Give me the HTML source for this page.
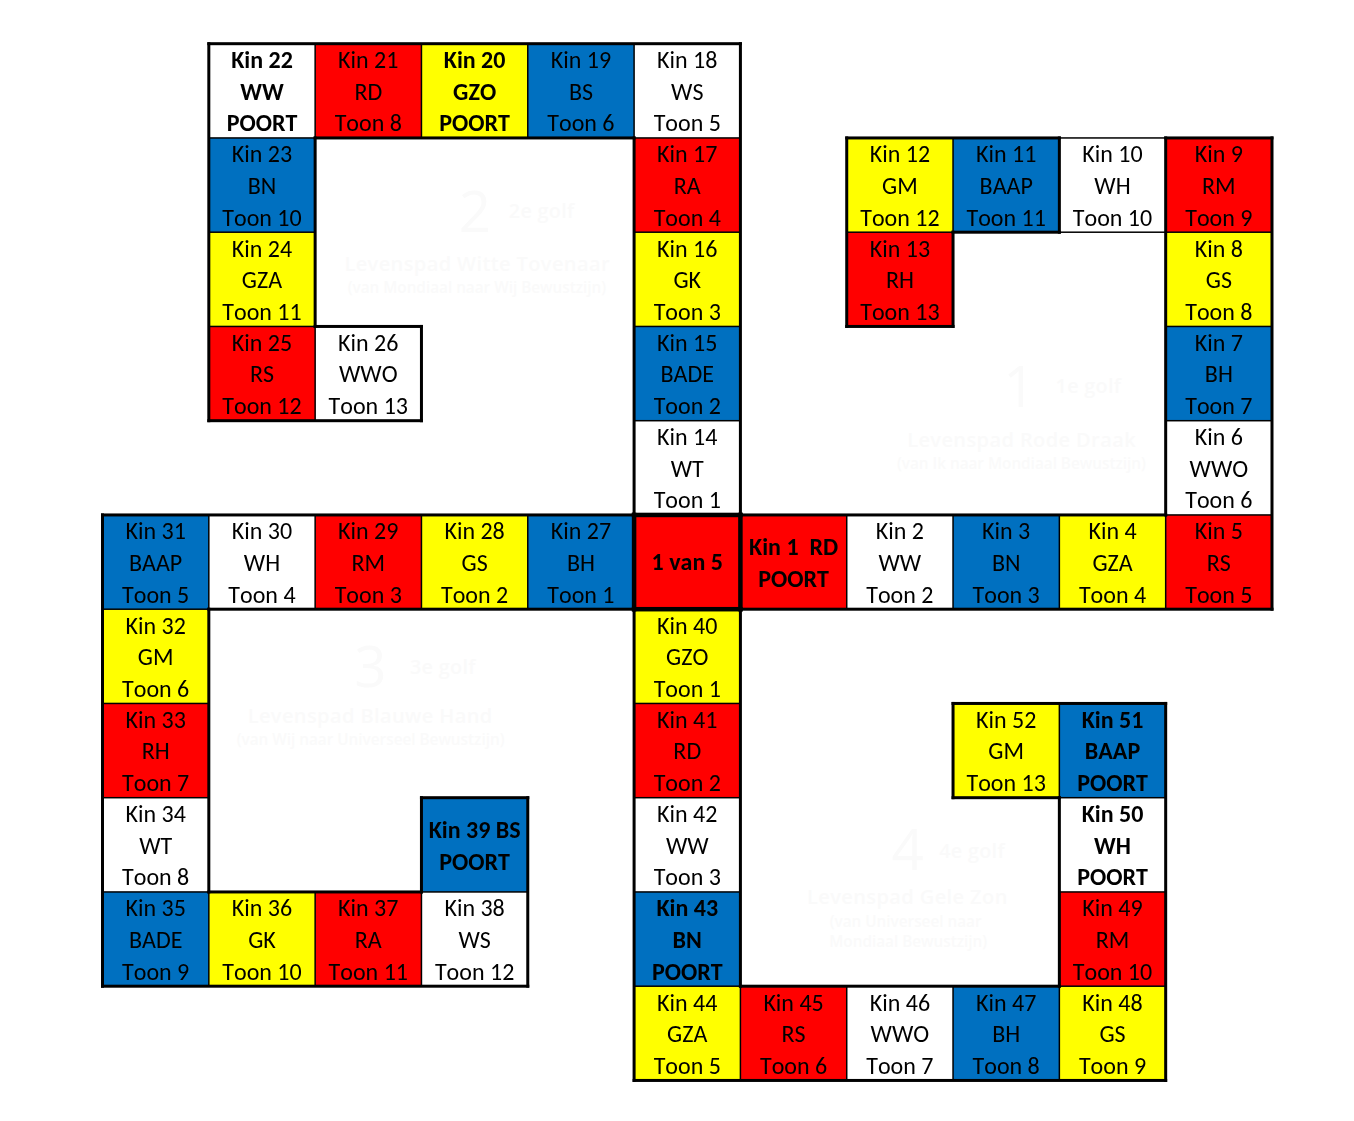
<!DOCTYPE html>
<html><head><meta charset="utf-8"><title>Levenspad</title>
<style>
html,body{margin:0;padding:0;background:#fff;}
body{width:1354px;height:1121px;overflow:hidden;}
svg{display:block;}
.c{filter:opacity(1);}
.c{font-family:Carlito,"Liberation Sans",Arial,sans-serif;font-size:24px;fill:#000;font-kerning:none;font-feature-settings:"kern" 0;}
.w{font-family:"Open Sans","Liberation Sans",Arial,sans-serif;fill:#fafafa;}
</style></head>
<body>
<svg width="1354" height="1121" viewBox="0 0 1354 1121">
<rect x="0" y="0" width="1354" height="1121" fill="#fff"/>
<g class="w">
<text x="475" y="232" font-size="56.5" font-weight="500" text-anchor="middle">2</text>
<text x="508.8" y="217.6" font-size="19.8" font-weight="600" text-anchor="start" letter-spacing="0.3">2e golf</text>
<text x="477.2" y="270.9" font-size="20" font-weight="600" text-anchor="middle" letter-spacing="0.4">Levenspad Witte Tovenaar</text>
<text x="476.9" y="292.8" font-size="15.3" font-weight="600" text-anchor="middle">(van Mondiaal naar Wij Bewustzijn)</text>
<text x="1019.5" y="406.6" font-size="56.5" font-weight="500" text-anchor="middle">1</text>
<text x="1055.6" y="392.6" font-size="19.8" font-weight="600" text-anchor="start" letter-spacing="0.3">1e golf</text>
<text x="1021.6" y="446.7" font-size="20" font-weight="600" text-anchor="middle" letter-spacing="0.4">Levenspad Rode Draak</text>
<text x="1021.4" y="468.9" font-size="15.3" font-weight="600" text-anchor="middle">(van Ik naar Mondiaal Bewustzijn)</text>
<text x="370.5" y="687.3" font-size="56.5" font-weight="500" text-anchor="middle">3</text>
<text x="410" y="673.6" font-size="19.8" font-weight="600" text-anchor="start" letter-spacing="0.3">3e golf</text>
<text x="370.2" y="722.6" font-size="20" font-weight="600" text-anchor="middle" letter-spacing="0.4">Levenspad Blauwe Hand</text>
<text x="370.6" y="744.8" font-size="15.3" font-weight="600" text-anchor="middle">(van Wij naar Universeel Bewustzijn)</text>
<text x="907.7" y="870.3" font-size="56.5" font-weight="500" text-anchor="middle">4</text>
<text x="939.2" y="858.1" font-size="19.8" font-weight="600" text-anchor="start" letter-spacing="0.3">4e golf</text>
<text x="907.4" y="904.4" font-size="20" font-weight="600" text-anchor="middle" letter-spacing="0.4">Levenspad Gele Zon</text>
<text x="905.6" y="926.5" font-size="15.3" font-weight="600" text-anchor="middle">(van Universeel naar</text>
<text x="908.2" y="946.5" font-size="15.3" font-weight="600" text-anchor="middle">Mondiaal Bewustzijn)</text>
</g>
<g>
<rect x="315.14" y="43.7" width="106.32" height="94.25" fill="#ff0000"/>
<rect x="421.45" y="43.7" width="106.32" height="94.25" fill="#ffff00"/>
<rect x="527.77" y="43.7" width="106.32" height="94.25" fill="#0070c0"/>
<rect x="208.82" y="137.95" width="106.32" height="94.25" fill="#0070c0"/>
<rect x="634.09" y="137.95" width="106.32" height="94.25" fill="#ff0000"/>
<rect x="846.73" y="137.95" width="106.32" height="94.25" fill="#ffff00"/>
<rect x="953.04" y="137.95" width="106.32" height="94.25" fill="#0070c0"/>
<rect x="1165.68" y="137.95" width="106.32" height="94.25" fill="#ff0000"/>
<rect x="208.82" y="232.2" width="106.32" height="94.25" fill="#ffff00"/>
<rect x="634.09" y="232.2" width="106.32" height="94.25" fill="#ffff00"/>
<rect x="846.73" y="232.2" width="106.32" height="94.25" fill="#ff0000"/>
<rect x="1165.68" y="232.2" width="106.32" height="94.25" fill="#ffff00"/>
<rect x="208.82" y="326.45" width="106.32" height="94.25" fill="#ff0000"/>
<rect x="634.09" y="326.45" width="106.32" height="94.25" fill="#0070c0"/>
<rect x="1165.68" y="326.45" width="106.32" height="94.25" fill="#0070c0"/>
<rect x="102.5" y="514.95" width="106.32" height="94.25" fill="#0070c0"/>
<rect x="315.14" y="514.95" width="106.32" height="94.25" fill="#ff0000"/>
<rect x="421.45" y="514.95" width="106.32" height="94.25" fill="#ffff00"/>
<rect x="527.77" y="514.95" width="106.32" height="94.25" fill="#0070c0"/>
<rect x="634.09" y="514.95" width="106.32" height="94.25" fill="#ff0000"/>
<rect x="740.41" y="514.95" width="106.32" height="94.25" fill="#ff0000"/>
<rect x="953.04" y="514.95" width="106.32" height="94.25" fill="#0070c0"/>
<rect x="1059.36" y="514.95" width="106.32" height="94.25" fill="#ffff00"/>
<rect x="1165.68" y="514.95" width="106.32" height="94.25" fill="#ff0000"/>
<rect x="102.5" y="609.2" width="106.32" height="94.25" fill="#ffff00"/>
<rect x="634.09" y="609.2" width="106.32" height="94.25" fill="#ffff00"/>
<rect x="102.5" y="703.45" width="106.32" height="94.25" fill="#ff0000"/>
<rect x="634.09" y="703.45" width="106.32" height="94.25" fill="#ff0000"/>
<rect x="953.04" y="703.45" width="106.32" height="94.25" fill="#ffff00"/>
<rect x="1059.36" y="703.45" width="106.32" height="94.25" fill="#0070c0"/>
<rect x="421.45" y="797.7" width="106.32" height="94.25" fill="#0070c0"/>
<rect x="102.5" y="891.95" width="106.32" height="94.25" fill="#0070c0"/>
<rect x="208.82" y="891.95" width="106.32" height="94.25" fill="#ffff00"/>
<rect x="315.14" y="891.95" width="106.32" height="94.25" fill="#ff0000"/>
<rect x="634.09" y="891.95" width="106.32" height="94.25" fill="#0070c0"/>
<rect x="1059.36" y="891.95" width="106.32" height="94.25" fill="#ff0000"/>
<rect x="634.09" y="986.2" width="106.32" height="94.25" fill="#ffff00"/>
<rect x="740.41" y="986.2" width="106.32" height="94.25" fill="#ff0000"/>
<rect x="953.04" y="986.2" width="106.32" height="94.25" fill="#0070c0"/>
<rect x="1059.36" y="986.2" width="106.32" height="94.25" fill="#ffff00"/>
</g>
<g fill="#000">
<rect x="208.82" y="137.2" width="106.32" height="1.5"/>
<rect x="634.09" y="137.2" width="106.32" height="1.5"/>
<rect x="1059.36" y="137.2" width="106.32" height="1.5"/>
<rect x="208.82" y="231.45" width="106.32" height="1.5"/>
<rect x="634.09" y="231.45" width="106.32" height="1.5"/>
<rect x="846.73" y="231.45" width="106.32" height="1.5"/>
<rect x="1059.36" y="231.45" width="212.64" height="1.5"/>
<rect x="208.82" y="325.7" width="106.32" height="1.5"/>
<rect x="634.09" y="325.7" width="106.32" height="1.5"/>
<rect x="1165.68" y="325.7" width="106.32" height="1.5"/>
<rect x="634.09" y="419.95" width="106.32" height="1.5"/>
<rect x="1165.68" y="419.95" width="106.32" height="1.5"/>
<rect x="1165.68" y="514.2" width="106.32" height="1.5"/>
<rect x="102.5" y="608.45" width="106.32" height="1.5"/>
<rect x="102.5" y="702.7" width="106.32" height="1.5"/>
<rect x="634.09" y="702.7" width="106.32" height="1.5"/>
<rect x="102.5" y="796.95" width="106.32" height="1.5"/>
<rect x="634.09" y="796.95" width="106.32" height="1.5"/>
<rect x="1059.36" y="796.95" width="106.32" height="1.5"/>
<rect x="102.5" y="891.2" width="106.32" height="1.5"/>
<rect x="421.45" y="891.2" width="106.32" height="1.5"/>
<rect x="634.09" y="891.2" width="106.32" height="1.5"/>
<rect x="1059.36" y="891.2" width="106.32" height="1.5"/>
<rect x="634.09" y="985.45" width="106.32" height="1.5"/>
<rect x="1059.36" y="985.45" width="106.32" height="1.5"/>
<rect x="208.07" y="514.95" width="1.5" height="94.25"/>
<rect x="208.07" y="891.95" width="1.5" height="94.25"/>
<rect x="314.39" y="43.7" width="1.5" height="94.25"/>
<rect x="314.39" y="326.45" width="1.5" height="94.25"/>
<rect x="314.39" y="514.95" width="1.5" height="94.25"/>
<rect x="314.39" y="891.95" width="1.5" height="94.25"/>
<rect x="420.7" y="43.7" width="1.5" height="94.25"/>
<rect x="420.7" y="514.95" width="1.5" height="94.25"/>
<rect x="420.7" y="891.95" width="1.5" height="94.25"/>
<rect x="527.02" y="43.7" width="1.5" height="94.25"/>
<rect x="527.02" y="514.95" width="1.5" height="94.25"/>
<rect x="633.34" y="43.7" width="1.5" height="94.25"/>
<rect x="739.66" y="986.2" width="1.5" height="94.25"/>
<rect x="845.98" y="514.95" width="1.5" height="94.25"/>
<rect x="845.98" y="986.2" width="1.5" height="94.25"/>
<rect x="952.29" y="137.95" width="1.5" height="94.25"/>
<rect x="952.29" y="514.95" width="1.5" height="94.25"/>
<rect x="952.29" y="986.2" width="1.5" height="94.25"/>
<rect x="1058.61" y="514.95" width="1.5" height="94.25"/>
<rect x="1058.61" y="703.45" width="1.5" height="94.25"/>
<rect x="1058.61" y="986.2" width="1.5" height="94.25"/>
<rect x="1164.93" y="514.95" width="1.5" height="94.25"/>
<rect x="207.32" y="42.2" width="534.59" height="3"/>
<rect x="313.64" y="136.45" width="321.95" height="3"/>
<rect x="845.23" y="136.45" width="215.64" height="3"/>
<rect x="1164.18" y="136.45" width="109.32" height="3"/>
<rect x="951.54" y="230.7" width="109.32" height="3"/>
<rect x="313.64" y="324.95" width="109.32" height="3"/>
<rect x="845.23" y="324.95" width="109.32" height="3"/>
<rect x="207.32" y="419.2" width="215.64" height="3"/>
<rect x="101" y="513.45" width="535.34" height="3"/>
<rect x="738.16" y="513.45" width="429.02" height="3"/>
<rect x="207.32" y="607.7" width="429.02" height="3"/>
<rect x="738.16" y="607.7" width="535.34" height="3"/>
<rect x="951.54" y="701.95" width="215.64" height="3"/>
<rect x="419.95" y="796.2" width="109.32" height="3"/>
<rect x="951.54" y="796.2" width="109.32" height="3"/>
<rect x="207.32" y="890.45" width="215.64" height="3"/>
<rect x="101" y="984.7" width="428.27" height="3"/>
<rect x="738.91" y="984.7" width="321.95" height="3"/>
<rect x="632.59" y="1078.95" width="534.59" height="3"/>
<rect x="101" y="513.45" width="3" height="474.25"/>
<rect x="207.32" y="42.2" width="3" height="380"/>
<rect x="207.32" y="607.7" width="3" height="285.75"/>
<rect x="313.64" y="136.45" width="3" height="191.5"/>
<rect x="419.95" y="324.95" width="3" height="97.25"/>
<rect x="419.95" y="796.2" width="3" height="97.25"/>
<rect x="526.27" y="796.2" width="3" height="191.5"/>
<rect x="632.59" y="136.45" width="3" height="380.75"/>
<rect x="632.59" y="606.95" width="3" height="475"/>
<rect x="738.91" y="42.2" width="3" height="475"/>
<rect x="738.91" y="606.95" width="3" height="380.75"/>
<rect x="845.23" y="136.45" width="3" height="191.5"/>
<rect x="951.54" y="230.7" width="3" height="97.25"/>
<rect x="951.54" y="701.95" width="3" height="97.25"/>
<rect x="1057.86" y="136.45" width="3" height="97.25"/>
<rect x="1057.86" y="796.2" width="3" height="191.5"/>
<rect x="1164.18" y="136.45" width="3" height="380"/>
<rect x="1164.18" y="701.95" width="3" height="380"/>
<rect x="1270.5" y="136.45" width="3" height="474.25"/>
<rect x="631.84" y="512.7" width="110.82" height="4.5"/>
<rect x="631.84" y="606.95" width="110.82" height="4.5"/>
<rect x="631.84" y="512.7" width="4.5" height="98.75"/>
<rect x="738.16" y="512.7" width="4.5" height="98.75"/>
</g>
<g class="c" text-anchor="middle">
<text x="261.98" y="68.1" font-weight="700">Kin 22</text>
<text x="261.98" y="99.7" font-weight="700">WW</text>
<text x="261.98" y="131.4" font-weight="700">POORT</text>
<text x="368.29" y="68.1">Kin 21</text>
<text x="368.29" y="99.7">RD</text>
<text x="368.29" y="131.4">Toon 8</text>
<text x="474.61" y="68.1" font-weight="700">Kin 20</text>
<text x="474.61" y="99.7" font-weight="700">GZO</text>
<text x="474.61" y="131.4" font-weight="700">POORT</text>
<text x="580.93" y="68.1">Kin 19</text>
<text x="580.93" y="99.7">BS</text>
<text x="580.93" y="131.4">Toon 6</text>
<text x="687.25" y="68.1">Kin 18</text>
<text x="687.25" y="99.7">WS</text>
<text x="687.25" y="131.4">Toon 5</text>
<text x="261.98" y="162.35">Kin 23</text>
<text x="261.98" y="193.95">BN</text>
<text x="261.98" y="225.65">Toon 10</text>
<text x="687.25" y="162.35">Kin 17</text>
<text x="687.25" y="193.95">RA</text>
<text x="687.25" y="225.65">Toon 4</text>
<text x="899.88" y="162.35">Kin 12</text>
<text x="899.88" y="193.95">GM</text>
<text x="899.88" y="225.65">Toon 12</text>
<text x="1006.2" y="162.35">Kin 11</text>
<text x="1006.2" y="193.95">BAAP</text>
<text x="1006.2" y="225.65">Toon 11</text>
<text x="1112.52" y="162.35">Kin 10</text>
<text x="1112.52" y="193.95">WH</text>
<text x="1112.52" y="225.65">Toon 10</text>
<text x="1218.84" y="162.35">Kin 9</text>
<text x="1218.84" y="193.95">RM</text>
<text x="1218.84" y="225.65">Toon 9</text>
<text x="261.98" y="256.6">Kin 24</text>
<text x="261.98" y="288.2">GZA</text>
<text x="261.98" y="319.9">Toon 11</text>
<text x="687.25" y="256.6">Kin 16</text>
<text x="687.25" y="288.2">GK</text>
<text x="687.25" y="319.9">Toon 3</text>
<text x="899.88" y="256.6">Kin 13</text>
<text x="899.88" y="288.2">RH</text>
<text x="899.88" y="319.9">Toon 13</text>
<text x="1218.84" y="256.6">Kin 8</text>
<text x="1218.84" y="288.2">GS</text>
<text x="1218.84" y="319.9">Toon 8</text>
<text x="261.98" y="350.85">Kin 25</text>
<text x="261.98" y="382.45">RS</text>
<text x="261.98" y="414.15">Toon 12</text>
<text x="368.29" y="350.85">Kin 26</text>
<text x="368.29" y="382.45">WWO</text>
<text x="368.29" y="414.15">Toon 13</text>
<text x="687.25" y="350.85">Kin 15</text>
<text x="687.25" y="382.45">BADE</text>
<text x="687.25" y="414.15">Toon 2</text>
<text x="1218.84" y="350.85">Kin 7</text>
<text x="1218.84" y="382.45">BH</text>
<text x="1218.84" y="414.15">Toon 7</text>
<text x="687.25" y="445.1">Kin 14</text>
<text x="687.25" y="476.7">WT</text>
<text x="687.25" y="508.4">Toon 1</text>
<text x="1218.84" y="445.1">Kin 6</text>
<text x="1218.84" y="476.7">WWO</text>
<text x="1218.84" y="508.4">Toon 6</text>
<text x="155.66" y="539.35">Kin 31</text>
<text x="155.66" y="570.95">BAAP</text>
<text x="155.66" y="602.65">Toon 5</text>
<text x="261.98" y="539.35">Kin 30</text>
<text x="261.98" y="570.95">WH</text>
<text x="261.98" y="602.65">Toon 4</text>
<text x="368.29" y="539.35">Kin 29</text>
<text x="368.29" y="570.95">RM</text>
<text x="368.29" y="602.65">Toon 3</text>
<text x="474.61" y="539.35">Kin 28</text>
<text x="474.61" y="570.95">GS</text>
<text x="474.61" y="602.65">Toon 2</text>
<text x="580.93" y="539.35">Kin 27</text>
<text x="580.93" y="570.95">BH</text>
<text x="580.93" y="602.65">Toon 1</text>
<text x="687.25" y="569.55" font-weight="700">1 van 5</text>
<text x="793.57" y="554.75" font-weight="700">Kin 1  RD</text>
<text x="793.57" y="586.75" font-weight="700">POORT</text>
<text x="899.88" y="539.35">Kin 2</text>
<text x="899.88" y="570.95">WW</text>
<text x="899.88" y="602.65">Toon 2</text>
<text x="1006.2" y="539.35">Kin 3</text>
<text x="1006.2" y="570.95">BN</text>
<text x="1006.2" y="602.65">Toon 3</text>
<text x="1112.52" y="539.35">Kin 4</text>
<text x="1112.52" y="570.95">GZA</text>
<text x="1112.52" y="602.65">Toon 4</text>
<text x="1218.84" y="539.35">Kin 5</text>
<text x="1218.84" y="570.95">RS</text>
<text x="1218.84" y="602.65">Toon 5</text>
<text x="155.66" y="633.6">Kin 32</text>
<text x="155.66" y="665.2">GM</text>
<text x="155.66" y="696.9">Toon 6</text>
<text x="687.25" y="633.6">Kin 40</text>
<text x="687.25" y="665.2">GZO</text>
<text x="687.25" y="696.9">Toon 1</text>
<text x="155.66" y="727.85">Kin 33</text>
<text x="155.66" y="759.45">RH</text>
<text x="155.66" y="791.15">Toon 7</text>
<text x="687.25" y="727.85">Kin 41</text>
<text x="687.25" y="759.45">RD</text>
<text x="687.25" y="791.15">Toon 2</text>
<text x="1006.2" y="727.85">Kin 52</text>
<text x="1006.2" y="759.45">GM</text>
<text x="1006.2" y="791.15">Toon 13</text>
<text x="1112.52" y="727.85" font-weight="700">Kin 51</text>
<text x="1112.52" y="759.45" font-weight="700">BAAP</text>
<text x="1112.52" y="791.15" font-weight="700">POORT</text>
<text x="155.66" y="822.1">Kin 34</text>
<text x="155.66" y="853.7">WT</text>
<text x="155.66" y="885.4">Toon 8</text>
<text x="474.61" y="837.5" font-weight="700">Kin 39 BS</text>
<text x="474.61" y="869.5" font-weight="700">POORT</text>
<text x="687.25" y="822.1">Kin 42</text>
<text x="687.25" y="853.7">WW</text>
<text x="687.25" y="885.4">Toon 3</text>
<text x="1112.52" y="822.1" font-weight="700">Kin 50</text>
<text x="1112.52" y="853.7" font-weight="700">WH</text>
<text x="1112.52" y="885.4" font-weight="700">POORT</text>
<text x="155.66" y="916.35">Kin 35</text>
<text x="155.66" y="947.95">BADE</text>
<text x="155.66" y="979.65">Toon 9</text>
<text x="261.98" y="916.35">Kin 36</text>
<text x="261.98" y="947.95">GK</text>
<text x="261.98" y="979.65">Toon 10</text>
<text x="368.29" y="916.35">Kin 37</text>
<text x="368.29" y="947.95">RA</text>
<text x="368.29" y="979.65">Toon 11</text>
<text x="474.61" y="916.35">Kin 38</text>
<text x="474.61" y="947.95">WS</text>
<text x="474.61" y="979.65">Toon 12</text>
<text x="687.25" y="916.35" font-weight="700">Kin 43</text>
<text x="687.25" y="947.95" font-weight="700">BN</text>
<text x="687.25" y="979.65" font-weight="700">POORT</text>
<text x="1112.52" y="916.35">Kin 49</text>
<text x="1112.52" y="947.95">RM</text>
<text x="1112.52" y="979.65">Toon 10</text>
<text x="687.25" y="1010.6">Kin 44</text>
<text x="687.25" y="1042.2">GZA</text>
<text x="687.25" y="1073.9">Toon 5</text>
<text x="793.57" y="1010.6">Kin 45</text>
<text x="793.57" y="1042.2">RS</text>
<text x="793.57" y="1073.9">Toon 6</text>
<text x="899.88" y="1010.6">Kin 46</text>
<text x="899.88" y="1042.2">WWO</text>
<text x="899.88" y="1073.9">Toon 7</text>
<text x="1006.2" y="1010.6">Kin 47</text>
<text x="1006.2" y="1042.2">BH</text>
<text x="1006.2" y="1073.9">Toon 8</text>
<text x="1112.52" y="1010.6">Kin 48</text>
<text x="1112.52" y="1042.2">GS</text>
<text x="1112.52" y="1073.9">Toon 9</text>
</g>
</svg>
</body></html>
